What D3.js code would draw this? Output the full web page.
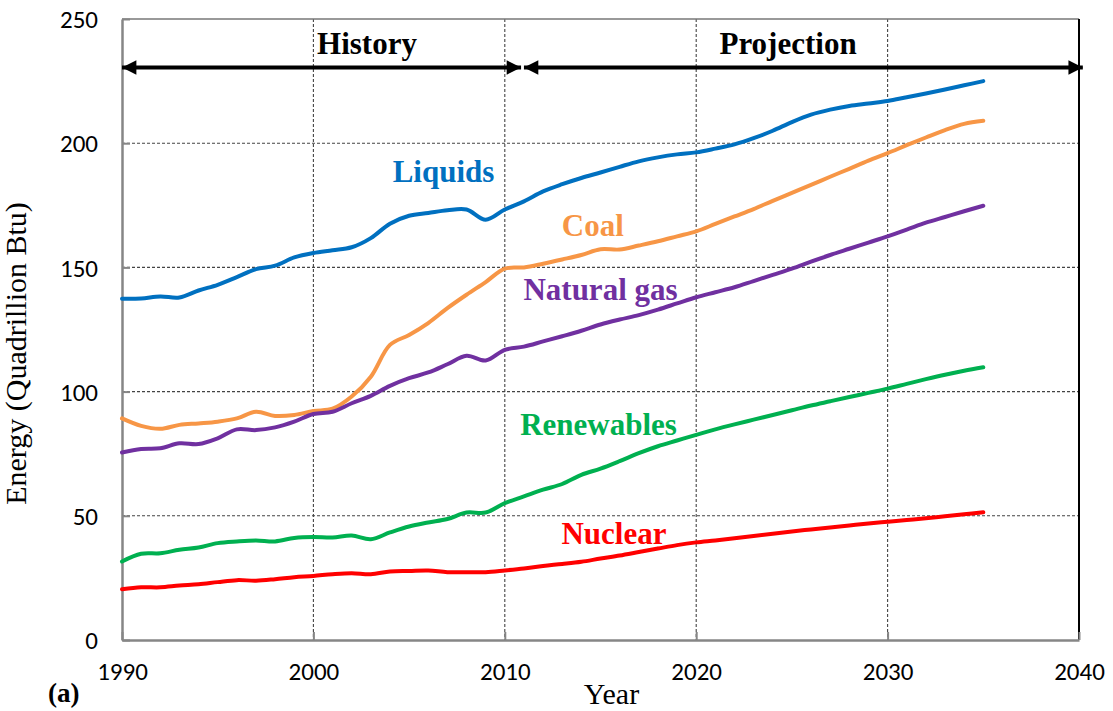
<!DOCTYPE html>
<html>
<head>
<meta charset="utf-8">
<script src="https://cdn.jsdelivr.net/npm/d3@7"></script>
<style>
  body { margin: 0; background: #fff; }
</style>
</head>
<body>
<div id="chart"></div>
<script>
// years 1990..2035
var years = d3.range(1990, 2036);

var liquids = [137.4, 137.5, 138.3, 137.9, 140.7, 143, 146.1, 149.3, 150.7, 154,
  155.8, 156.9, 158.1, 161.8, 167.6, 170.8, 171.9, 173, 173.3, 169.2,
  173.3, 176.6, 180.6, 183.5, 186, 188.2, 190.5, 192.7, 194.3, 195.5,
  196.3, 197.8, 199.5, 202, 205, 208.5, 211.5, 213.5, 215, 216,
  217, 218.5, 220, 221.6, 223.3, 225];

var coal = [89.2, 86.2, 85, 86.6, 87.2, 87.9, 89.2, 91.9, 90.2, 90.6,
  92.2, 93.1, 98, 106, 118.8, 122.8, 127.6, 133.6, 139, 144.1,
  149.5, 150, 151.5, 153.2, 155, 157.3, 157.2, 158.8, 160.5, 162.5,
  164.5, 167.5, 170.5, 173.5, 176.8, 180, 183.2, 186.5, 189.7, 193,
  196, 199.2, 202.3, 205.3, 207.8, 209];

var naturalGas = [75.5, 76.9, 77.2, 79.2, 78.9, 81.2, 84.8, 84.5, 85.6, 87.9,
  91, 91.9, 95.3, 98.3, 102.3, 105.4, 107.7, 111, 114.4, 112.5,
  116.8, 118.1, 120.2, 122.3, 124.5, 127, 129, 130.8, 133, 135.5,
  138, 140, 142, 144.5, 147, 149.5, 152.3, 155, 157.5, 160,
  162.5, 165.2, 168, 170.3, 172.6, 174.8];

var renewables = [31.6, 34.7, 34.9, 36.3, 37.2, 39, 39.7, 40.1, 39.7, 41.1,
  41.5, 41.3, 42.1, 40.6, 43.3, 45.7, 47.3, 48.7, 51.3, 51.3,
  55.1, 57.8, 60.5, 62.8, 66.5, 69, 72, 75.2, 78, 80.3,
  82.6, 84.8, 86.8, 88.7, 90.6, 92.5, 94.4, 96.1, 97.8, 99.5,
  101.2, 103.1, 105, 106.8, 108.4, 109.8];

var nuclear = [20.4, 21.2, 21.2, 21.9, 22.4, 23.3, 24.1, 23.9, 24.5, 25.3,
  25.8, 26.5, 26.9, 26.5, 27.6, 27.8, 28, 27.3, 27.3, 27.3,
  28, 28.8, 29.8, 30.6, 31.5, 32.8, 34, 35.4, 36.8, 38.2,
  39.3, 40.1, 41, 41.9, 42.8, 43.7, 44.5, 45.3, 46.1, 46.9,
  47.6, 48.3, 49, 49.8, 50.6, 51.4];

var seriesNames = ["Liquids", "Coal", "Natural gas", "Renewables", "Nuclear"];
var seriesValues = [liquids, coal, naturalGas, renewables, nuclear];
var seriesColors = ["#0070C0", "#F79646", "#7030A0", "#00B050", "#FF0000"];
// label anchor (year, value) for each series name
var labelYears = [2006.8, 2014.6, 2015, 2014.9, 2015.7];
var labelValues = [184.5, 162.5, 137, 82.5, 38.5];

var xTicks = [1990, 2000, 2010, 2020, 2030, 2040];
var yTicks = [0, 50, 100, 150, 200, 250];

var margin = { top: 19, right: 34, bottom: 71, left: 122 },
    width = 1113 - margin.left - margin.right,
    height = 711 - margin.top - margin.bottom;

var svg = d3.select("#chart")
    .append("svg")
    .attr("width", 1113)
    .attr("height", 711)
    .append("g")
    .attr("transform", "translate(" + margin.left + "," + margin.top + ")");

var x = d3.scaleLinear().domain([1990, 2040]).range([0, width]);
var y = d3.scaleLinear().domain([0, 250]).range([height, 0]);

var serif = "'Liberation Serif', 'Times New Roman', serif";

// grid lines
svg.append("g")
    .selectAll("line.vg")
    .data(xTicks.slice(1, -1))
    .enter().append("line")
    .attr("x1", d => x(d)).attr("x2", d => x(d))
    .attr("y1", 0).attr("y2", height)
    .attr("stroke", "#444").attr("stroke-width", 1.1)
    .attr("stroke-dasharray", "3,2");

svg.append("g")
    .selectAll("line.hg")
    .data(yTicks.slice(1, -1))
    .enter().append("line")
    .attr("x1", 0).attr("x2", width)
    .attr("y1", d => y(d)).attr("y2", d => y(d))
    .attr("stroke", "#444").attr("stroke-width", 1.1)
    .attr("stroke-dasharray", "3,2");

// frame: top and right
svg.append("line").attr("x1", 0).attr("x2", width).attr("y1", 0).attr("y2", 0)
    .attr("stroke", "#777").attr("stroke-width", 1.5);
svg.append("line").attr("x1", width).attr("x2", width).attr("y1", 0).attr("y2", height)
    .attr("stroke", "#000").attr("stroke-width", 2);

// axes
var xAxis = svg.append("g")
    .attr("transform", "translate(0," + height + ")")
    .call(d3.axisBottom(x).tickValues(xTicks).tickFormat(d3.format("d")).tickSizeInner(-8).tickSizeOuter(0).tickPadding(22));
var yAxis = svg.append("g")
    .call(d3.axisLeft(y).tickValues(yTicks).tickSizeInner(-8).tickSizeOuter(0).tickPadding(24));

[xAxis, yAxis].forEach(function (a) {
    a.select(".domain").attr("stroke", "#868686").attr("stroke-width", 2.5);
    a.selectAll(".tick line").attr("stroke", "#868686").attr("stroke-width", 2);
    a.selectAll(".tick text")
        .attr("fill", "#000")
        .attr("font-size", null)
        .style("font-family", "Carlito, 'Open Sans', 'Liberation Sans', sans-serif")
        .style("font-size", "25px");
});
yAxis.selectAll(".tick text").attr("dy", "0.35em");

// lines
var line = d3.line()
    .x(function (d, i) { return x(years[i]); })
    .y(function (d) { return y(d); })
    .curve(d3.curveCatmullRom.alpha(0.5));

svg.selectAll("path.series")
    .data(seriesValues)
    .enter().append("path")
    .attr("class", "series")
    .attr("d", line)
    .attr("fill", "none")
    .attr("stroke", function (d, i) { return seriesColors[i]; })
    .attr("stroke-width", 4)
    .attr("stroke-linecap", "round")
    .attr("stroke-linejoin", "round");

// series labels
svg.selectAll("text.lab")
    .data(seriesNames)
    .enter().append("text")
    .attr("x", function (d, i) { return x(labelYears[i]); })
    .attr("y", function (d, i) { return y(labelValues[i]); })
    .attr("fill", function (d, i) { return seriesColors[i]; })
    .style("font-family", serif)
    .style("font-weight", "bold")
    .style("font-size", "31px")
    .style("text-anchor", "middle")
    .text(function (d) { return d; });

// history / projection arrows
svg.append("defs").append("marker")
    .attr("id", "head")
    .attr("viewBox", "0 0 10 10")
    .attr("refX", 10).attr("refY", 5)
    .attr("markerWidth", 4).attr("markerHeight", 3.6)
    .attr("markerUnits", "strokeWidth")
    .attr("orient", "auto-start-reverse")
    .append("path").attr("d", "M0,0L10,5L0,10Z").attr("fill", "#000");

var arrowY = y(230.5);
svg.append("line")
    .attr("x1", x(1990)).attr("x2", x(2010.85))
    .attr("y1", arrowY).attr("y2", arrowY)
    .attr("stroke", "#000").attr("stroke-width", 4)
    .attr("marker-start", "url(#head)").attr("marker-end", "url(#head)");
svg.append("line")
    .attr("x1", x(2011.0)).attr("x2", x(2040.2))
    .attr("y1", arrowY).attr("y2", arrowY)
    .attr("stroke", "#000").attr("stroke-width", 4)
    .attr("marker-start", "url(#head)").attr("marker-end", "url(#head)");

svg.append("text")
    .attr("x", x(2002.8)).attr("y", y(236))
    .style("font-family", serif)
    .style("font-weight", "bold").style("font-size", "31px")
    .style("text-anchor", "middle")
    .text("History");
svg.append("text")
    .attr("x", x(2024.8)).attr("y", y(236))
    .style("font-family", serif)
    .style("font-weight", "bold").style("font-size", "31px")
    .style("text-anchor", "middle")
    .text("Projection");

// axis titles
svg.append("text")
    .attr("x", width / 2 + 11)
    .attr("y", height + 64)
    .style("font-family", serif)
    .style("font-size", "30px")
    .style("text-anchor", "middle")
    .text("Year");

svg.append("text")
    .attr("transform", "translate(-96," + (height / 2 + 24) + ") rotate(-90)")
    .style("font-family", serif)
    .style("font-size", "30px")
    .style("text-anchor", "middle")
    .text("Energy (Quadrillion Btu)");

svg.append("text")
    .attr("x", -74)
    .attr("y", height + 62)
    .style("font-family", serif)
    .style("font-weight", "bold")
    .style("font-size", "27px")
    .text("(a)");
</script>
</body>
</html>
